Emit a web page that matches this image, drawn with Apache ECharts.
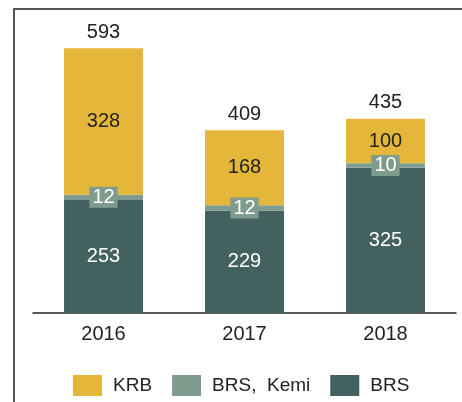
<!DOCTYPE html>
<html>
<head>
<meta charset="utf-8">
<script src="https://cdn.jsdelivr.net/npm/echarts@6/dist/echarts.min.js"></script>
<style>
html,body{margin:0;padding:0;background:#fff;}
#chart{width:462px;height:402px;}
</style>
</head>
<body>
<div id="chart"></div>
<script>
var years = ['2016', '2017', '2018'];
var brs = [253, 229, 325];
var brsKemi = [12, 12, 10];
var krb = [328, 168, 100];
var totals = [593, 409, 435];

var colors = ['#E4B73A', '#7F9B8E', '#42615F'];
var font = 'Liberation Sans, Arial, sans-serif';

var chart = echarts.init(document.getElementById('chart'));
var option = {
    animation: false,
    backgroundColor: '#fff',
    color: colors,
    graphic: [
        {
            type: 'rect',
            shape: {x: 14, y: 9, width: 520, height: 520},
            style: {fill: 'none', stroke: '#555', lineWidth: 2},
            silent: true
        }
    ],
    legend: {
        bottom: 1,
        left: 68,
        itemWidth: 29,
        itemHeight: 21,
        itemGap: 20,
        icon: 'rect',
        textStyle: {fontFamily: font, fontSize: 19, color: '#222', padding: [0, 0, 0, 6]},
        data: ['KRB', 'BRS,  Kemi', 'BRS']
    },
    grid: {left: 33, right: 6, top: 45, bottom: 89},
    xAxis: {
        type: 'category',
        data: years,
        axisTick: {show: false},
        axisLine: {lineStyle: {color: '#222', width: 1.5}},
        axisLabel: {fontFamily: font, fontSize: 20, color: '#222', margin: 11}
    },
    yAxis: {
        type: 'value',
        min: 0,
        max: 600,
        show: false,
        splitLine: {show: false}
    },
    series: [
        {
            name: 'BRS',
            type: 'bar',
            stack: 'a',
            barWidth: '56%',
            data: brs,
            itemStyle: {color: colors[2]},
            label: {show: true, position: 'inside', fontFamily: font, fontSize: 20, color: '#fff'}
        },
        {
            name: 'BRS,  Kemi',
            type: 'bar',
            stack: 'a',
            data: brsKemi,
            itemStyle: {color: colors[1]},
            label: {
                show: true, position: 'inside', fontFamily: font, fontSize: 20, color: '#fff',
                backgroundColor: colors[1], padding: [1, 3], lineHeight: 19
            }
        },
        {
            name: 'KRB',
            type: 'bar',
            stack: 'a',
            data: krb,
            itemStyle: {color: colors[0]},
            label: {show: true, position: 'inside', fontFamily: font, fontSize: 20, color: '#222'}
        },
        {
            name: 'total',
            type: 'scatter',
            data: totals,
            symbolSize: 0,
            itemStyle: {opacity: 1},
            label: {show: true, position: 'top', distance: 6, fontFamily: font, fontSize: 20, color: '#222'},
            silent: true
        }
    ]
};
chart.setOption(option);
</script>
</body>
</html>
